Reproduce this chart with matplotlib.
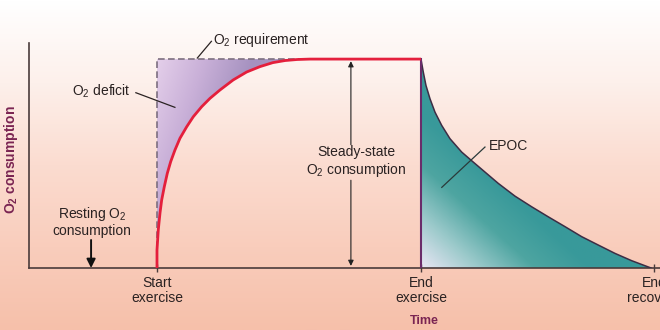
import numpy as np
import matplotlib
matplotlib.use("Agg")
import matplotlib.pyplot as plt
from matplotlib.colors import LinearSegmentedColormap

plt.rcParams['font.family'] = ['Liberation Sans', 'DejaVu Sans']
plt.rcParams['mathtext.fontset'] = 'custom'
plt.rcParams['mathtext.rm'] = 'Liberation Sans'
plt.rcParams['mathtext.it'] = 'Liberation Sans:italic'
plt.rcParams['mathtext.bf'] = 'Liberation Sans:bold'

# time markers (arbitrary units) and tick labels
t_start = 2.0
t_end_ex = 6.125
t_end_rec = 9.77
tick_pos = [t_start, t_end_ex, t_end_rec]
tick_labels = ["Start\nexercise", "End\nexercise", "End\nrecovery"]

steady = 1.0

# O2 uptake at the start of exercise
rise_t = [2.0, 2.0, 2.02, 2.047, 2.073, 2.114, 2.161, 2.214, 2.281, 2.359, 2.464,
          2.567, 2.698, 2.828, 2.984, 3.19, 3.40, 3.61, 3.81, 4.0, 4.19, 4.39, 6.125]
rise_v = [0.0, 0.086, 0.182, 0.263, 0.325, 0.389, 0.453, 0.509, 0.565, 0.621, 0.676,
          0.724, 0.772, 0.812, 0.852, 0.900, 0.938, 0.964, 0.983, 0.993, 0.998, 1.0, 1.0]

# recovery curve after exercise (EPOC)
rec_t = [6.125, 6.161, 6.203, 6.266, 6.344, 6.448, 6.578, 6.761, 6.942, 7.333, 7.594,
         7.855, 8.114, 8.375, 8.636, 8.895, 9.156, 9.417, 9.72]
rec_v = [1.0, 0.938, 0.874, 0.810, 0.746, 0.683, 0.619, 0.555, 0.507, 0.405, 0.344,
         0.293, 0.245, 0.198, 0.150, 0.110, 0.070, 0.035, 0.0]

axis_col = '#4a3b3b'
label_col = '#7a2452'
text_col = '#2a2222'

fig = plt.figure(figsize=(6.6, 3.3), dpi=100)

# background gradient
bg = fig.add_axes([0, 0, 1, 1])
bg_cmap = LinearSegmentedColormap.from_list(
    'bg', ['#ffffff', '#fdf0eb', '#fbdcd0', '#f9cdbc', '#f6c0aa'])
grad = np.linspace(0, 1, 256).reshape(-1, 1)
bg.imshow(grad, aspect='auto', cmap=bg_cmap, extent=[0, 1, 0, 1], origin='upper')
bg.set_axis_off()

ax = fig.add_axes([29 / 660, 62 / 330, 631 / 660, 225 / 330])
ax.patch.set_alpha(0)
xlim = (0, 9.86)
ylim = (0, 1.077)

# O2 deficit fill (gradient clipped to region between requirement and curve)
deficit = ax.fill_between(rise_t, rise_v, steady, facecolor='none', edgecolor='none')
xx, yy = np.meshgrid(np.linspace(t_start, 4.5, 200), np.linspace(0, 1, 200))
v = np.clip((xx - t_start) / 1.5 + (1 - yy) * 0.8, 0, 1)
def_cmap = LinearSegmentedColormap.from_list('def', ['#e4cfea', '#c9b0d8', '#a692c0'])
im1 = ax.imshow(v, extent=[t_start, 4.5, 0, 1], origin='lower', aspect='auto',
                cmap=def_cmap, zorder=1)
im1.set_clip_path(deficit.get_paths()[0], ax.transData)

# EPOC fill
epoc = ax.fill_between(rec_t, 0, rec_v, facecolor='none', edgecolor='none')
xx, yy = np.meshgrid(np.linspace(t_end_ex, t_end_rec, 200), np.linspace(0, 1, 200))
v = np.clip(1.35 * ((xx - t_end_ex) / 3.6 + yy), 0, 1)
epoc_cmap = LinearSegmentedColormap.from_list('epoc', ['#e8e6f4', '#9ccacb', '#4ea5a1', '#38999a'])
im2 = ax.imshow(v, extent=[t_end_ex, t_end_rec, 0, 1], origin='lower', aspect='auto',
                cmap=epoc_cmap, zorder=1)
im2.set_clip_path(epoc.get_paths()[0], ax.transData)

# recovery curve edge and end-exercise line
ax.plot(rec_t, rec_v, color='#3d2d45', lw=1.1, zorder=3)
ax.plot([t_end_ex, t_end_ex], [0, steady], color='#6a2c6a', lw=1.5, zorder=3)

# O2 requirement (dashed)
ax.plot([t_start, t_start, 4.4], [0, steady, steady], color='#7d6f80', lw=1.2,
        dashes=(4, 2), zorder=2)

# O2 consumption curve
ax.plot(rise_t, rise_v, color='#e41f3c', lw=2, zorder=4, solid_capstyle='butt')

ax.set_xlim(*xlim)
ax.set_ylim(*ylim)

for s in ['top', 'right']:
    ax.spines[s].set_visible(False)
for s in ['left', 'bottom']:
    ax.spines[s].set_color(axis_col)
    ax.spines[s].set_linewidth(1.2)

ax.set_yticks([])
ax.set_xticks(tick_pos)
ax.set_xticklabels(tick_labels, fontsize=10, color=text_col, linespacing=1.05)
ax.tick_params(axis='x', direction='inout', length=6, width=1, color=axis_col, pad=3)

ax.set_xlabel('Time', fontsize=9, fontweight='bold', color=label_col)
ax.xaxis.set_label_coords(0.626, -0.21)
ax.set_ylabel('O$_\\mathbf{2}$ consumption', fontsize=10, fontweight='bold', color=label_col)
ax.yaxis.set_label_coords(-0.015, 0.48)

# annotations
ax.text(2.875, 1.09, 'O$_2$ requirement', fontsize=10, color=text_col,
        ha='left', va='center', clip_on=False)
ax.plot([2.85, 2.63], [1.085, 1.005], color=text_col, lw=0.9, clip_on=False)

ax.text(1.125, 0.847, 'O$_2$ deficit', fontsize=10, color=text_col, ha='center', va='center')
ax.plot([1.67, 2.28], [0.839, 0.769], color=text_col, lw=0.9, zorder=5)

ax.text(0.984, 0.222, 'Resting O$_2$\nconsumption', fontsize=10, color=text_col,
        ha='center', va='center', linespacing=1.05)
ax.annotate('', xy=(0.97, 0.0), xytext=(0.97, 0.134),
            arrowprops=dict(arrowstyle='-|>', color='#111111', lw=1.4, mutation_scale=13,
                            shrinkA=0, shrinkB=0))

ax.text(5.11, 0.507, 'Steady-state\nO$_2$ consumption', fontsize=10, color=text_col,
        ha='center', va='center', linespacing=1.1)
ax.annotate('', xy=(5.03, 0.99), xytext=(5.03, 0.59),
            arrowprops=dict(arrowstyle='-|>', color='#222222', lw=0.8, mutation_scale=8,
                            shrinkA=0, shrinkB=0))
ax.annotate('', xy=(5.03, 0.01), xytext=(5.03, 0.42),
            arrowprops=dict(arrowstyle='-|>', color='#222222', lw=0.8, mutation_scale=8,
                            shrinkA=0, shrinkB=0))

ax.text(7.5, 0.584, 'EPOC', fontsize=10, color=text_col, ha='center', va='center')
ax.plot([7.125, 6.45], [0.579, 0.386], color='#2a3a3a', lw=0.9, zorder=5)

fig.savefig('out.png', dpi=100)
